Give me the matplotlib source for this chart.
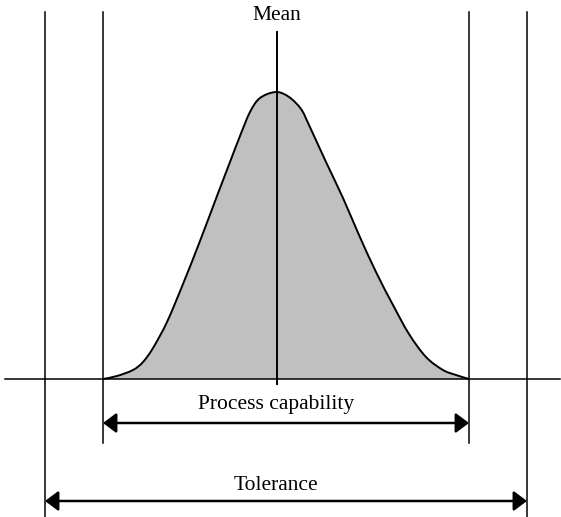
import matplotlib
matplotlib.use("Agg")
import matplotlib.pyplot as plt
from matplotlib.path import Path
from matplotlib.patches import PathPatch

# Distribution curve (x position, height above baseline)
curve_x = [103, 117, 133, 143, 153, 167, 183, 200, 217, 230, 240, 250, 260,
           276, 289, 301, 309, 326, 343, 359, 376, 393, 409, 426, 443, 456, 469]
curve_h = [0, 3, 9, 17, 31, 57, 95, 138, 183, 217, 243, 267, 281,
           287, 282, 270, 254, 217, 181, 144, 107, 74, 45, 22, 9, 4, 0]

# Limits
tolerance_limits = [45, 527]
capability_limits = [103, 469]
mean_x = 277

labels = {"mean": "Mean", "capability": "Process capability", "tolerance": "Tolerance"}


def smooth_path(xs, ys, close_to_base=False):
    """Catmull-Rom spline through the given points, as cubic Bezier path."""
    pts = list(zip(xs, ys))
    verts = [pts[0]]
    codes = [Path.MOVETO]
    n = len(pts)
    for i in range(n - 1):
        p0 = pts[i - 1] if i > 0 else pts[i]
        p1 = pts[i]
        p2 = pts[i + 1]
        p3 = pts[i + 2] if i + 2 < n else pts[i + 1]
        c1 = (p1[0] + (p2[0] - p0[0]) / 6.0, p1[1] + (p2[1] - p0[1]) / 6.0)
        c2 = (p2[0] - (p3[0] - p1[0]) / 6.0, p2[1] - (p3[1] - p1[1]) / 6.0)
        verts += [c1, c2, p2]
        codes += [Path.CURVE4] * 3
    if close_to_base:
        verts += [(xs[-1], 0), (xs[0], 0), (xs[0], 0)]
        codes += [Path.LINETO, Path.LINETO, Path.CLOSEPOLY]
    return Path(verts, codes)


fig = plt.figure(figsize=(5.61, 5.17), dpi=100)
ax = fig.add_axes([0, 0, 1, 1])
ax.set_xlim(0, 561)
ax.set_ylim(-138, 379)
ax.axis("off")

serif = ["Liberation Serif", "DejaVu Serif"]
lw = 1.1

# filled curve
ax.add_patch(PathPatch(smooth_path(curve_x, curve_h, True), facecolor="#c0c0c0",
                       edgecolor="none", zorder=1))
ax.add_patch(PathPatch(smooth_path(curve_x, curve_h), facecolor="none",
                       edgecolor="black", lw=1.4, zorder=3))

# baseline
ax.plot([5, 560], [0, 0], color="black", lw=lw, zorder=2)

# vertical lines
for x in tolerance_limits:
    ax.plot([x, x], [367, -140], color="black", lw=lw, zorder=2)
for x in capability_limits:
    ax.plot([x, x], [367, -64], color="black", lw=lw, zorder=2)
ax.plot([mean_x, mean_x], [347, -5], color="black", lw=1.4, zorder=4)


# arrows
def darrow(x0, x1, y):
    ax.annotate("", xy=(x1, y), xytext=(x0, y),
                arrowprops=dict(arrowstyle="<|-|>,head_length=0.8,head_width=0.6",
                                color="black", lw=1.8, shrinkA=0, shrinkB=0),
                zorder=5)


darrow(capability_limits[0], capability_limits[1], -44)
darrow(tolerance_limits[0], tolerance_limits[1], -122)

# text
fs = 15.5
ax.text(mean_x, 364, labels["mean"], ha="center", va="center", fontsize=fs, family=serif)
ax.text(sum(capability_limits) / 2 - 10, -26, labels["capability"], ha="center",
        va="center", fontsize=fs, family=serif)
ax.text(sum(tolerance_limits) / 2 - 10, -107, labels["tolerance"], ha="center",
        va="center", fontsize=fs, family=serif)

fig.savefig("out.png", dpi=100)
